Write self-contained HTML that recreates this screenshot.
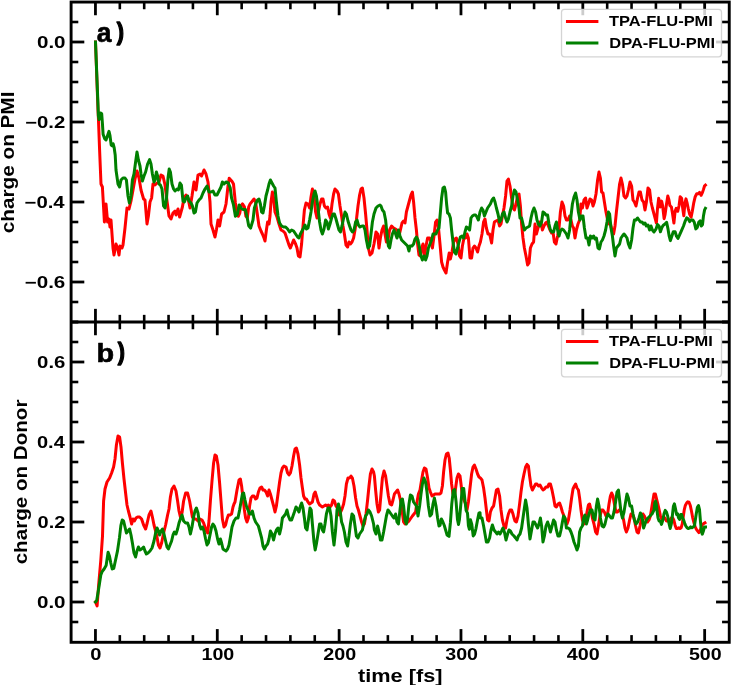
<!DOCTYPE html>
<html><head><meta charset="utf-8"><style>html,body{margin:0;padding:0;background:#fff;width:731px;height:685px;overflow:hidden}</style></head>
<body><svg width="731" height="685" viewBox="0 0 731 685" style="display:block;font-family:'Liberation Sans',sans-serif;font-weight:bold"><defs><clipPath id="ct"><rect x="71.1" y="2.05" width="658.15" height="320.0"/></clipPath><clipPath id="cb"><rect x="71.1" y="322.05" width="658.15" height="320.24999999999994"/></clipPath></defs>
<g clip-path="url(#ct)">
<polyline points="95.5,42.0 98.0,110.0 98.4,118.0 99.6,150.0 101.0,184.0 102.4,187.0 104.4,222.0 106.0,204.0 107.6,222.0 109.0,219.0 110.0,227.0 111.0,220.0 113.0,248.0 114.0,255.0 116.0,244.0 117.6,248.0 119.0,255.0 120.0,246.0 122.0,248.0 123.0,245.0 125.0,228.0 127.0,208.0 129.0,209.0 131.0,201.0 133.0,190.0 135.0,179.0 137.0,171.0 139.0,178.0 141.0,190.0 143.6,199.0 145.0,200.0 147.0,224.0 148.4,216.0 150.0,202.0 151.6,198.0 153.0,184.0 155.0,185.0 157.0,183.0 159.0,182.0 161.0,175.0 163.0,176.0 165.0,185.0 167.0,201.0 169.0,216.0 171.0,219.0 173.0,213.0 175.0,211.0 176.0,215.0 178.0,209.0 179.6,217.0 181.0,212.0 182.4,207.0 184.0,198.0 186.0,195.0 188.0,198.0 190.0,208.0 192.0,196.0 194.0,182.0 196.0,190.0 198.0,175.0 200.0,174.0 201.6,176.0 204.0,170.0 206.0,174.0 208.0,182.0 210.0,202.0 211.0,224.0 213.0,230.0 215.0,237.0 216.4,230.0 218.0,220.0 219.6,226.0 221.6,214.0 224.0,212.0 226.0,204.0 228.0,186.0 229.2,178.3 232.1,181.6 233.5,184.0 235.4,203.0 236.8,210.6 238.3,216.3 239.7,213.4 241.1,205.8 242.5,203.9 244.4,206.8 245.9,216.3 247.3,217.7 248.7,206.8 250.1,203.9 254.0,199.0 255.6,202.0 257.0,212.0 259.0,226.0 261.0,231.0 262.4,234.0 264.0,238.0 265.0,241.0 266.4,230.0 267.6,222.0 269.0,224.0 270.0,216.0 271.0,202.0 272.4,192.0 273.6,198.0 275.0,212.0 277.0,217.0 279.0,224.0 281.0,230.0 283.0,231.0 285.0,233.0 287.0,239.0 289.0,245.0 290.4,248.0 292.0,244.0 293.6,240.0 295.6,244.0 297.0,248.0 298.4,256.0 300.0,257.0 301.6,244.0 303.0,226.0 304.4,210.0 306.0,203.0 308.0,204.0 309.6,208.0 311.0,197.0 312.4,189.0 314.0,196.0 315.6,212.0 317.0,218.0 318.4,212.0 320.0,204.0 321.6,199.0 323.0,199.0 324.4,206.0 326.0,208.0 327.6,207.0 329.0,214.0 330.4,218.0 332.0,204.0 333.6,194.0 335.0,189.0 337.0,191.0 338.4,194.0 340.0,206.0 341.6,216.0 343.0,226.0 344.4,234.0 346.0,245.0 347.6,247.0 349.0,242.0 350.4,244.0 352.0,242.0 353.6,238.0 355.0,230.0 356.4,220.0 358.0,206.0 359.6,195.0 361.0,189.0 362.4,188.0 364.0,198.0 365.6,214.0 367.0,230.0 368.4,248.0 370.0,255.0 372.0,253.0 374.0,244.0 376.0,232.0 377.6,234.0 379.0,248.0 380.4,238.0 382.0,230.0 383.6,226.0 385.0,234.0 386.4,242.0 388.0,240.0 389.6,230.0 391.6,226.0 393.6,228.0 395.6,229.0 397.6,231.0 399.0,236.0 400.4,230.0 402.0,223.0 403.6,221.0 405.0,223.0 406.4,212.0 408.0,206.0 409.6,200.0 411.0,195.0 412.4,192.0 413.6,202.0 415.0,218.0 416.4,230.0 417.6,244.0 419.0,255.0 420.4,256.0 421.6,248.0 423.0,244.0 424.4,256.0 426.0,246.0 427.6,238.0 429.6,238.0 431.0,242.0 432.4,248.0 434.0,236.0 435.6,222.0 437.0,220.0 438.4,227.0 440.0,244.0 441.6,262.0 443.0,267.0 444.4,270.0 446.0,273.0 447.6,262.0 449.2,253.0 450.4,259.0 452.0,252.0 453.6,242.0 455.0,239.0 456.4,238.0 458.0,244.0 459.6,256.0 461.0,258.0 462.4,246.0 464.0,238.0 465.6,238.0 467.0,234.0 468.4,238.0 470.0,258.0 471.6,258.0 473.0,248.0 474.4,246.0 476.0,248.0 477.6,252.0 479.0,246.0 480.4,242.0 482.0,234.0 483.6,222.0 485.0,219.0 486.4,228.0 488.0,234.0 489.6,234.0 491.6,243.0 493.0,230.0 494.4,222.0 496.0,221.0 498.0,220.0 499.6,226.0 501.0,224.0 502.4,216.0 504.0,208.0 505.6,196.0 507.0,181.0 508.4,179.0 510.0,186.0 511.6,198.0 513.0,208.0 514.4,210.0 516.0,204.0 517.6,196.0 519.0,194.0 520.4,206.0 521.6,224.0 523.0,238.0 524.4,248.0 526.0,256.0 527.6,265.0 529.0,263.0 530.4,248.0 532.0,244.0 533.6,242.0 535.0,224.0 536.4,234.0 538.0,228.0 539.6,222.0 541.0,222.0 542.4,230.0 544.0,226.0 545.6,223.0 547.0,222.0 548.4,226.0 550.0,230.0 551.6,233.0 553.0,232.0 554.4,242.0 556.0,244.0 557.6,236.0 559.0,228.0 560.4,212.0 562.0,202.0 563.6,206.0 565.0,216.0 566.4,220.0 568.0,220.0 569.6,216.0 571.0,220.0 572.4,226.0 573.6,228.0 575.0,238.0 576.4,230.0 578.0,224.0 579.6,220.0 581.0,204.0 582.4,208.0 584.0,200.0 585.6,198.0 587.0,208.0 588.4,204.0 590.0,199.0 591.6,200.0 593.0,206.0 594.4,202.0 596.0,194.0 597.6,180.0 599.0,172.0 600.4,178.0 601.6,192.0 603.0,193.0 604.4,202.0 606.0,212.0 607.6,220.0 609.0,224.0 610.4,224.0 612.0,230.0 613.6,234.0 615.0,226.0 616.4,212.0 618.0,198.0 619.6,184.0 621.0,178.0 622.4,184.0 624.0,196.0 625.6,198.0 627.0,196.0 628.4,190.0 630.0,182.0 631.6,186.0 633.0,200.0 634.4,202.0 636.0,206.0 637.6,198.0 639.0,192.0 640.4,192.0 642.0,200.0 643.6,202.0 645.0,210.0 646.4,202.0 648.0,188.0 649.6,190.0 651.0,202.0 652.4,208.0 654.0,214.0 656.4,223.0 657.5,208.4 658.7,198.2 660.2,207.0 661.6,201.1 662.6,205.5 664.1,218.7 665.1,214.3 666.3,205.5 667.8,196.0 668.9,199.7 669.9,205.5 671.4,207.0 672.4,212.8 673.9,223.0 675.1,211.3 676.2,208.4 677.7,211.3 679.1,205.5 680.2,196.7 681.6,198.2 682.7,208.4 683.8,215.7 685.0,202.6 686.0,198.9 687.0,202.6 688.2,208.4 689.7,214.3 691.1,217.2 692.3,211.3 693.8,202.6 695.2,196.7 696.7,193.8 698.1,193.8 699.6,192.4 701.1,195.3 702.5,192.4 703.5,189.4 704.6,185.8 705.4,185.1" fill="none" stroke="#ff0000" stroke-width="3.0" stroke-linejoin="round" stroke-linecap="square"/>
<polyline points="95.5,42.0 98.0,105.0 98.4,116.0 99.1,119.6 100.6,113.0 101.7,113.8 102.4,123.2 103.1,134.2 104.6,138.6 106.0,140.0 107.5,135.7 109.0,131.3 110.0,135.7 111.2,145.1 112.2,145.9 113.1,143.7 114.1,147.3 115.2,155.0 116.0,170.0 118.0,184.0 119.6,187.0 121.0,180.0 123.0,178.0 125.0,178.0 126.4,180.0 128.0,196.0 129.4,203.0 131.0,196.0 132.4,180.0 134.0,174.0 135.6,162.0 137.0,152.0 138.4,160.0 140.0,166.0 141.0,174.0 142.4,181.0 144.0,176.0 145.6,172.0 147.6,164.0 149.6,159.6 151.0,164.0 152.4,174.0 154.0,182.0 155.0,180.0 156.4,172.0 157.6,176.0 159.0,184.0 160.4,185.0 162.0,189.0 163.6,206.0 165.0,208.0 166.4,200.0 168.0,178.0 169.2,169.0 170.4,172.0 172.0,184.0 173.6,189.0 175.0,191.0 177.0,189.0 178.4,190.0 180.0,183.0 181.4,185.0 183.0,201.0 184.4,202.0 186.0,198.0 187.6,196.0 189.0,201.0 191.0,203.0 192.4,206.0 194.0,213.0 195.4,212.0 197.0,203.0 199.0,200.0 201.0,198.0 203.0,193.0 205.0,189.0 207.0,186.0 209.0,192.0 211.0,192.0 213.0,191.0 215.0,195.0 217.0,195.0 219.0,191.0 221.0,187.0 222.4,182.0 224.0,184.0 226.0,182.0 228.3,183.0 230.2,187.8 231.6,198.2 233.5,204.9 235.4,216.3 237.3,214.4 239.2,204.9 241.6,208.7 243.5,209.6 245.4,209.6 247.3,218.2 248.7,225.8 250.6,228.1 253.0,220.0 254.4,208.0 256.0,203.0 257.6,200.0 259.0,199.0 260.4,204.0 261.6,212.0 263.0,213.0 264.4,206.0 266.0,196.0 267.6,190.0 269.0,184.0 270.4,180.0 272.0,183.0 273.6,186.0 275.0,188.0 276.4,202.0 278.0,216.0 279.6,223.0 281.6,226.0 283.6,227.0 285.6,227.0 287.6,229.0 289.6,232.0 291.6,230.0 293.6,231.0 295.6,234.0 297.6,237.0 299.0,238.0 300.4,234.0 302.0,231.0 303.6,228.0 305.0,225.0 306.4,229.0 308.0,228.0 309.6,220.0 311.0,212.0 312.4,202.0 314.0,194.0 315.0,191.0 316.4,196.0 318.0,208.0 319.6,222.0 321.0,230.0 322.4,234.0 324.0,229.0 325.6,220.0 327.0,222.0 328.4,229.0 330.0,224.0 331.6,218.0 333.0,214.0 334.4,214.0 336.0,219.0 337.6,225.0 339.0,230.0 340.4,232.0 342.0,226.0 343.6,218.0 345.0,212.0 346.4,214.0 348.0,221.0 349.6,226.0 351.0,230.0 352.4,232.0 354.0,230.0 355.6,222.0 357.0,220.0 358.4,225.0 360.0,227.0 362.0,226.0 363.6,226.0 365.0,230.0 366.4,240.0 368.0,248.0 369.6,246.0 371.0,234.0 372.4,222.0 374.0,214.0 376.0,208.0 378.0,206.0 380.0,205.0 381.0,206.0 382.4,210.0 384.0,212.0 385.6,220.0 387.0,234.0 388.4,246.0 389.6,248.0 391.0,240.0 392.4,234.0 394.0,230.0 395.6,234.0 397.0,238.0 398.4,230.0 400.0,236.0 401.6,240.0 403.6,242.0 405.6,244.0 407.6,246.0 409.0,251.0 410.0,246.0 412.0,246.0 413.6,244.0 415.0,239.0 416.4,237.0 418.0,240.0 419.6,248.0 421.0,256.0 422.4,260.0 424.0,256.0 425.6,260.0 427.0,256.0 428.4,248.0 430.0,244.0 431.6,240.0 433.0,234.0 434.4,234.0 436.0,234.0 437.6,230.0 439.0,228.0 440.4,212.0 441.6,198.0 443.0,188.0 444.4,187.0 445.6,192.0 446.6,204.0 447.6,213.0 449.0,214.0 450.4,218.0 451.6,230.0 453.0,242.0 454.4,252.0 456.0,254.0 457.6,248.0 459.0,242.0 460.4,237.0 462.0,236.0 463.6,238.0 465.0,232.0 466.4,227.0 468.0,228.0 469.6,230.0 471.0,218.0 472.4,216.0 474.0,215.0 475.6,215.0 477.0,217.0 478.4,220.0 480.0,212.0 481.6,208.0 483.0,210.0 484.4,216.0 486.0,212.0 487.6,208.0 489.0,206.0 490.4,204.0 492.0,200.0 493.6,198.0 495.0,202.0 496.4,208.0 498.0,214.0 499.6,222.0 501.0,220.0 502.4,214.0 504.0,212.0 505.6,218.0 507.0,222.0 508.4,219.0 510.0,212.0 511.6,206.0 513.0,196.0 514.4,190.0 516.0,192.0 517.6,200.0 519.0,208.0 520.0,218.0 521.6,218.0 523.0,224.0 524.4,230.0 526.0,228.0 528.0,227.0 529.6,226.0 531.0,218.0 532.4,212.0 534.0,208.0 535.6,212.0 537.0,220.0 538.4,224.0 540.0,226.0 541.6,222.0 543.0,212.0 544.4,213.0 546.0,215.0 547.6,215.0 549.0,224.0 550.4,230.0 552.0,232.0 553.6,232.0 555.0,226.0 556.4,222.0 557.6,230.0 559.0,236.0 560.4,231.0 562.0,229.0 563.6,230.0 565.0,232.0 566.4,234.0 568.0,238.0 569.6,230.0 571.0,216.0 572.4,204.0 574.0,197.0 575.6,193.0 577.0,200.0 578.4,212.0 580.0,220.0 581.6,216.0 583.0,216.0 584.4,228.0 586.0,238.0 587.6,238.0 589.0,245.0 590.4,236.0 592.0,238.0 593.6,236.0 595.0,239.0 596.4,238.0 598.0,248.0 599.4,249.0 601.0,242.0 602.4,240.0 604.0,236.0 605.6,230.0 607.0,222.0 608.4,212.0 609.6,214.0 611.0,228.0 612.4,236.0 613.6,246.0 615.0,256.0 616.4,248.0 618.0,246.0 619.6,244.0 621.0,238.0 622.4,236.0 624.0,234.0 625.6,236.0 627.0,238.0 628.4,244.0 630.0,248.0 631.6,240.0 633.0,228.0 634.4,220.0 636.0,220.0 637.6,218.0 639.0,220.0 640.4,222.0 642.0,222.0 643.6,224.0 645.0,223.0 646.4,226.0 648.0,225.0 649.6,230.0 651.0,226.0 652.4,230.0 654.0,232.0 656.1,228.9 657.5,224.5 659.0,226.0 660.4,231.8 661.9,227.4 663.4,225.2 665.1,223.8 666.6,222.3 668.0,228.9 669.2,236.2 670.4,240.6 671.8,236.2 673.3,231.8 675.1,231.8 676.5,236.2 678.0,238.4 679.7,234.7 681.6,230.3 683.5,226.0 685.3,220.8 686.7,217.9 688.2,218.7 689.7,221.6 691.1,220.1 692.9,220.1 694.3,222.3 695.8,228.9 697.3,227.4 698.7,222.3 700.2,220.8 701.3,226.0 702.5,224.5 703.5,215.7 704.6,209.9 705.4,208.4" fill="none" stroke="#008000" stroke-width="3.0" stroke-linejoin="round" stroke-linecap="square"/>
</g><g clip-path="url(#cb)">
<polyline points="95.5,602.0 97.1,605.9 98.7,584.4 100.8,560.3 102.5,536.1 103.6,501.0 105.0,489.0 107.0,482.0 109.6,478.0 111.6,473.0 113.6,467.0 115.0,459.0 116.4,445.0 118.0,436.0 119.6,437.0 121.0,447.0 122.4,463.0 124.0,479.0 125.6,493.0 127.0,505.0 128.4,511.0 130.0,517.0 131.6,524.0 133.0,519.0 134.4,521.0 136.0,518.0 137.6,517.0 139.6,517.0 141.6,519.0 143.6,525.0 145.6,529.0 147.2,523.0 149.0,515.0 151.0,511.0 152.4,517.0 154.0,525.0 155.6,531.0 157.0,537.0 158.4,545.0 160.0,548.0 161.6,543.0 163.6,533.0 165.6,525.0 167.6,515.0 169.0,509.0 170.4,497.0 172.0,489.0 174.0,486.0 176.0,491.0 177.6,501.0 179.0,511.0 180.4,517.0 182.0,513.0 183.6,501.0 185.6,493.0 187.6,493.0 189.6,501.0 191.0,509.0 192.4,517.0 194.0,519.0 196.0,519.0 198.0,521.0 200.0,519.0 202.0,520.0 203.6,523.0 205.0,527.0 206.4,531.0 207.6,533.0 209.0,521.0 210.4,501.0 212.0,481.0 213.6,463.0 215.0,455.0 216.4,456.0 218.0,465.0 219.6,483.0 221.0,501.0 222.4,519.0 224.0,527.0 225.6,525.0 227.0,519.0 228.4,515.0 230.0,515.0 231.6,514.0 233.0,507.0 234.0,504.0 235.0,502.0 237.0,490.0 239.0,480.0 240.4,479.0 241.6,486.0 243.0,498.0 244.4,510.0 245.6,518.0 247.0,522.0 248.4,518.0 249.6,506.0 251.0,498.0 252.4,496.0 254.0,496.0 255.6,499.0 257.0,498.0 258.4,492.0 260.0,488.0 261.6,487.0 263.0,490.0 264.4,490.0 266.0,492.0 267.6,496.0 269.0,490.0 270.4,494.0 272.0,500.0 273.6,506.0 275.0,512.0 276.4,506.0 278.0,494.0 279.6,482.0 281.0,473.0 282.4,468.0 284.0,466.0 286.0,467.0 287.6,473.0 289.0,475.0 290.4,473.0 292.0,466.0 293.6,456.0 295.0,449.0 296.4,448.0 298.0,454.0 299.6,465.0 301.0,478.0 302.4,488.0 303.6,496.0 305.0,499.0 306.4,499.0 308.0,502.0 309.6,504.0 311.0,503.0 312.4,502.0 314.0,494.0 315.2,492.0 316.4,496.0 318.0,502.0 319.6,505.0 321.0,506.0 322.4,507.0 324.0,506.0 325.6,505.0 327.0,506.0 328.4,505.0 330.0,507.0 331.6,505.0 333.0,500.0 334.4,501.0 336.0,506.0 337.6,508.0 339.2,515.0 340.6,512.0 342.0,509.0 343.6,504.0 345.0,496.0 346.4,484.0 348.0,478.0 349.6,478.0 351.0,476.0 352.4,478.0 354.0,486.0 355.6,498.0 357.0,506.0 358.4,510.0 360.0,516.0 361.6,522.0 363.0,526.0 364.4,524.0 366.0,514.0 367.6,500.0 369.0,486.0 370.4,474.0 372.0,469.0 373.6,472.0 374.4,476.0 375.6,490.0 377.0,504.0 378.4,512.0 379.6,510.0 381.0,494.0 382.4,478.0 384.0,471.0 385.6,476.0 387.0,486.0 388.4,496.0 390.0,504.0 391.6,505.0 393.0,500.0 394.4,494.0 396.0,492.0 397.6,490.0 399.0,494.0 400.4,500.0 402.0,510.0 403.6,522.0 405.0,524.0 406.4,522.0 408.0,522.0 409.6,520.0 411.0,518.0 412.4,516.0 414.0,514.0 415.6,512.0 417.0,502.0 418.4,494.0 420.0,490.0 421.6,480.0 423.0,472.0 424.4,468.0 426.0,469.0 427.6,478.0 429.0,488.0 430.4,492.0 432.0,496.0 433.6,495.0 435.0,494.0 436.4,494.0 438.0,494.0 439.6,494.0 441.0,493.0 442.4,486.0 443.6,472.0 445.0,460.0 446.4,454.0 448.0,453.0 449.2,458.0 450.4,470.0 451.6,484.0 453.0,494.0 454.4,496.0 455.6,488.0 457.0,478.0 458.4,474.0 460.0,476.0 461.0,484.0 462.4,496.0 464.0,500.0 465.6,504.0 467.0,510.0 468.4,502.0 470.0,488.0 471.6,474.0 473.0,467.0 474.4,465.0 476.0,469.0 477.6,474.0 479.0,477.0 480.4,478.0 482.0,480.0 483.6,488.0 485.0,498.0 486.4,510.0 487.6,520.0 489.0,521.0 490.4,512.0 492.0,508.0 493.6,506.0 495.0,498.0 496.4,490.0 498.0,489.0 499.6,496.0 501.0,510.0 502.4,520.0 504.0,526.0 505.6,528.0 507.0,520.0 508.4,514.0 510.0,510.0 511.6,510.0 513.0,514.0 514.0,518.0 515.0,521.0 516.4,522.0 518.0,516.0 519.6,504.0 521.0,492.0 522.4,482.0 524.0,474.0 525.6,467.0 527.0,464.4 528.4,466.0 529.6,476.0 531.0,486.0 532.4,490.0 534.0,487.0 535.6,484.0 537.0,484.0 538.4,486.0 540.0,485.0 541.6,488.0 543.0,490.0 544.4,489.0 546.0,487.0 547.6,487.0 549.0,484.0 550.4,484.0 552.0,490.0 553.6,498.0 555.0,506.0 556.4,507.0 558.0,504.0 559.6,503.0 561.0,507.0 562.4,512.0 564.0,516.0 565.6,520.0 567.0,524.0 568.4,520.0 570.0,510.0 571.6,498.0 573.0,489.0 574.4,486.0 575.6,484.0 577.0,488.0 578.4,490.0 579.6,498.0 581.0,510.0 582.4,520.0 584.0,524.0 585.6,520.0 587.0,512.0 588.4,505.0 589.6,504.0 591.0,510.0 592.4,518.0 594.0,524.0 595.6,532.0 597.0,534.0 598.4,526.0 600.0,516.0 601.6,510.0 603.0,510.0 604.4,512.0 606.0,516.0 607.6,514.0 609.0,504.0 610.4,496.0 611.6,493.0 613.0,496.0 614.4,504.0 616.0,512.0 617.6,512.0 619.0,510.0 620.4,510.0 622.0,514.0 623.6,520.0 625.0,528.0 626.4,532.0 628.0,528.0 629.6,520.0 631.0,514.0 632.4,514.0 634.0,518.0 635.6,526.0 637.0,532.0 638.4,533.0 640.0,526.0 641.6,518.0 643.0,514.0 644.4,516.0 646.0,520.0 647.6,522.0 649.0,520.0 650.4,516.0 652.0,506.0 654.0,494.0 655.4,494.0 656.6,499.0 657.8,503.9 659.1,509.6 660.3,515.4 661.5,518.7 662.8,517.8 664.0,517.0 665.2,518.7 666.5,521.1 667.7,521.1 668.9,520.3 670.2,519.5 671.4,517.8 672.6,517.8 673.9,520.3 675.1,525.2 676.3,528.5 677.5,528.5 678.8,527.7 680.0,528.5 681.2,527.7 682.3,523.6 683.3,516.2 684.3,509.6 685.3,505.5 686.6,503.1 687.8,501.8 689.0,502.2 690.3,505.5 691.5,511.3 692.7,517.8 694.0,522.8 695.2,526.9 696.4,529.3 697.7,531.0 698.9,532.6 700.1,531.0 701.4,526.9 702.6,524.4 703.8,523.6 705.0,522.8" fill="none" stroke="#ff0000" stroke-width="3.0" stroke-linejoin="round" stroke-linecap="square"/>
<polyline points="95.5,602.0 96.7,600.5 98.7,588.5 100.8,575.0 102.1,571.7 104.1,569.0 106.1,565.6 108.1,552.2 109.5,556.2 110.8,563.0 112.2,569.0 113.8,568.3 115.5,560.3 117.5,550.9 119.5,537.4 120.9,525.4 122.2,520.0 123.6,521.0 125.0,527.0 126.4,533.0 128.0,531.0 129.6,529.0 131.0,535.0 132.4,543.0 134.0,553.0 135.6,557.0 137.0,551.0 138.4,547.0 140.0,550.0 141.6,549.0 143.6,547.0 145.0,551.0 146.4,554.0 148.0,553.0 150.0,551.0 152.0,548.0 154.0,541.0 155.6,533.0 157.0,528.0 158.4,531.0 159.6,535.0 161.0,531.0 162.4,529.0 164.0,534.0 165.6,541.0 167.0,547.0 168.4,549.0 170.0,545.0 171.6,541.0 173.0,535.0 174.4,532.0 176.0,534.0 177.6,529.0 179.0,523.0 180.4,519.0 182.0,515.0 183.6,521.0 185.6,523.0 187.6,523.0 189.0,527.0 190.4,534.0 192.0,527.0 193.6,517.0 195.0,511.0 196.4,508.0 198.0,513.0 199.6,525.0 201.0,529.0 202.4,527.0 204.0,531.0 205.6,539.0 207.0,545.0 208.4,543.0 210.0,535.0 211.6,527.0 213.0,524.0 214.4,526.0 216.0,531.0 217.6,539.0 219.0,544.0 220.4,539.0 221.6,543.0 223.0,549.0 224.4,550.0 226.0,551.0 227.6,549.0 229.0,545.0 230.4,537.0 232.0,527.0 234.0,521.0 236.0,518.0 238.0,518.0 239.6,510.0 241.0,502.0 242.4,494.0 243.6,493.0 245.0,500.0 246.4,506.0 248.0,510.0 249.6,514.0 251.0,514.0 252.4,511.0 254.0,518.0 255.6,522.0 257.0,524.0 258.4,526.0 260.0,532.0 261.6,538.0 263.0,546.0 264.4,549.0 266.0,546.0 267.6,544.0 269.0,539.0 270.4,531.0 272.0,534.0 273.6,540.0 275.0,534.0 276.4,530.0 278.0,528.0 279.6,534.0 281.0,528.0 282.4,518.0 284.0,516.0 285.6,514.0 287.0,510.0 288.4,516.0 290.0,520.0 291.6,520.0 293.0,516.0 294.4,512.0 296.0,507.0 297.6,509.0 299.0,512.0 300.4,506.0 301.6,503.0 303.0,508.0 304.4,518.0 305.6,528.0 307.0,530.0 308.4,520.0 310.0,508.0 311.2,510.0 312.4,524.0 314.0,542.0 315.2,550.0 316.4,544.0 318.0,534.0 319.6,524.0 321.0,524.0 322.4,530.0 323.6,532.0 325.0,524.0 326.4,514.0 328.0,508.0 329.6,508.0 331.0,516.0 332.4,532.0 334.0,545.0 335.6,530.0 337.0,510.0 338.4,504.0 340.0,510.0 341.6,522.0 343.0,526.0 344.4,532.0 346.0,542.0 347.6,546.0 349.0,536.0 350.4,524.0 352.0,514.0 353.6,516.0 355.0,526.0 356.4,536.0 358.0,538.0 359.6,534.0 361.0,532.0 362.4,530.0 364.0,522.0 365.6,516.0 367.0,514.0 368.4,510.0 370.0,512.0 371.6,516.0 373.6,524.0 374.4,530.0 376.0,534.0 377.6,526.0 379.0,532.0 380.4,540.0 382.0,540.0 383.6,532.0 385.0,524.0 386.4,516.0 388.0,510.0 389.6,512.0 391.0,514.0 392.4,516.0 394.0,518.0 395.6,514.0 397.0,522.0 398.4,524.0 400.0,510.0 401.2,500.0 402.4,499.0 403.6,506.0 405.0,520.0 406.4,524.0 407.6,518.0 409.0,504.0 410.4,495.0 412.0,496.0 413.6,502.0 415.0,504.0 416.4,506.0 418.0,516.0 419.6,506.0 421.0,494.0 422.4,484.0 424.0,478.0 425.6,482.0 427.0,492.0 428.4,506.0 430.0,516.0 431.6,514.0 433.0,504.0 434.4,498.0 436.0,506.0 437.6,518.0 439.0,526.0 440.0,525.5 441.4,518.9 442.8,521.7 444.3,525.5 445.7,530.2 447.1,535.0 449.0,536.4 450.4,522.7 451.8,503.7 453.3,490.4 454.7,489.5 456.1,501.8 457.5,519.8 458.5,524.5 459.4,519.8 460.9,503.7 462.3,488.5 463.7,488.5 464.8,499.0 466.1,510.3 467.5,513.2 468.4,525.5 469.4,529.3 470.5,519.8 471.8,524.5 473.2,535.9 474.6,534.0 476.0,528.3 477.4,520.8 478.9,513.2 480.0,512.7 480.4,518.0 482.0,518.0 483.6,526.0 485.0,534.0 486.4,542.0 488.0,542.0 489.6,538.0 491.0,530.0 492.4,525.0 494.0,530.0 495.6,532.0 497.0,534.0 498.4,532.0 500.0,534.0 501.6,531.0 503.0,528.0 504.4,532.0 506.0,540.0 507.6,534.0 509.0,530.0 510.4,531.0 512.0,534.0 514.0,536.0 515.6,538.0 517.0,540.0 518.4,536.0 520.0,534.0 521.6,528.0 523.0,518.0 524.4,508.0 525.6,500.0 527.0,508.0 528.4,524.0 530.0,539.0 531.6,530.0 533.0,522.0 534.4,522.0 536.0,525.0 537.6,528.0 539.0,524.0 540.4,518.0 541.6,526.0 543.0,542.0 544.4,536.0 546.0,526.0 547.6,522.0 549.0,526.0 550.4,532.0 552.0,526.0 553.6,520.0 555.0,522.0 556.4,530.0 558.0,536.0 559.6,536.0 561.0,530.0 562.4,522.0 563.6,516.0 565.0,518.0 566.4,528.0 568.0,528.0 569.6,529.0 571.0,532.0 572.4,536.0 574.0,542.0 575.6,546.0 577.0,550.0 578.4,546.0 579.6,532.0 581.0,528.0 582.4,526.0 583.6,518.0 585.0,515.0 586.4,524.0 587.6,520.0 589.0,514.0 590.4,510.0 592.0,510.0 593.6,518.0 595.0,520.0 596.4,506.0 597.6,499.0 599.0,506.0 600.4,518.0 602.0,526.0 603.6,527.0 605.0,524.0 606.4,518.0 608.0,514.0 609.6,516.0 611.0,518.0 612.4,518.0 614.0,512.0 615.6,502.0 617.0,492.0 618.4,490.0 619.6,500.0 621.0,512.0 622.4,518.0 624.0,512.0 625.6,502.0 627.0,494.0 628.4,498.0 630.0,506.0 631.6,506.0 633.0,514.0 634.4,520.0 636.0,524.0 637.6,522.0 639.0,518.0 640.4,513.0 642.0,516.0 643.6,528.0 645.0,524.0 646.4,520.0 648.0,518.0 650.0,516.0 652.0,514.0 654.0,510.0 654.7,503.1 655.6,501.0 656.4,504.7 657.2,512.1 658.0,517.8 659.1,521.1 660.3,521.1 661.5,524.4 662.8,520.3 664.0,513.7 665.2,510.4 666.5,512.1 667.7,516.2 668.9,522.8 670.2,528.5 671.4,523.6 672.5,514.5 673.4,506.3 674.4,503.9 675.5,508.8 676.6,514.5 677.5,513.7 678.5,517.8 679.6,519.5 680.7,514.5 681.7,514.5 682.6,517.8 683.7,520.3 684.8,523.6 685.8,526.0 687.0,527.7 688.2,528.5 689.5,528.1 690.7,526.9 691.9,527.7 693.1,526.9 694.4,526.0 695.4,519.5 696.4,512.9 697.4,507.2 698.5,505.5 699.5,509.6 700.5,521.9 701.5,531.8 702.3,534.2 703.4,531.0 704.5,526.9 705.5,526.9" fill="none" stroke="#008000" stroke-width="3.0" stroke-linejoin="round" stroke-linecap="square"/>
</g>
<line x1="95.45" y1="2.05" x2="95.45" y2="15.25" stroke="#000" stroke-width="2.8" />
<line x1="119.82" y1="2.05" x2="119.82" y2="9.25" stroke="#000" stroke-width="2.6" />
<line x1="144.19" y1="2.05" x2="144.19" y2="9.25" stroke="#000" stroke-width="2.6" />
<line x1="168.55" y1="2.05" x2="168.55" y2="9.25" stroke="#000" stroke-width="2.6" />
<line x1="192.92" y1="2.05" x2="192.92" y2="9.25" stroke="#000" stroke-width="2.6" />
<line x1="217.29" y1="2.05" x2="217.29" y2="15.25" stroke="#000" stroke-width="2.8" />
<line x1="241.66" y1="2.05" x2="241.66" y2="9.25" stroke="#000" stroke-width="2.6" />
<line x1="266.03" y1="2.05" x2="266.03" y2="9.25" stroke="#000" stroke-width="2.6" />
<line x1="290.39" y1="2.05" x2="290.39" y2="9.25" stroke="#000" stroke-width="2.6" />
<line x1="314.76" y1="2.05" x2="314.76" y2="9.25" stroke="#000" stroke-width="2.6" />
<line x1="339.13" y1="2.05" x2="339.13" y2="15.25" stroke="#000" stroke-width="2.8" />
<line x1="363.50" y1="2.05" x2="363.50" y2="9.25" stroke="#000" stroke-width="2.6" />
<line x1="387.87" y1="2.05" x2="387.87" y2="9.25" stroke="#000" stroke-width="2.6" />
<line x1="412.23" y1="2.05" x2="412.23" y2="9.25" stroke="#000" stroke-width="2.6" />
<line x1="436.60" y1="2.05" x2="436.60" y2="9.25" stroke="#000" stroke-width="2.6" />
<line x1="460.97" y1="2.05" x2="460.97" y2="15.25" stroke="#000" stroke-width="2.8" />
<line x1="485.34" y1="2.05" x2="485.34" y2="9.25" stroke="#000" stroke-width="2.6" />
<line x1="509.71" y1="2.05" x2="509.71" y2="9.25" stroke="#000" stroke-width="2.6" />
<line x1="534.07" y1="2.05" x2="534.07" y2="9.25" stroke="#000" stroke-width="2.6" />
<line x1="558.44" y1="2.05" x2="558.44" y2="9.25" stroke="#000" stroke-width="2.6" />
<line x1="582.81" y1="2.05" x2="582.81" y2="15.25" stroke="#000" stroke-width="2.8" />
<line x1="607.18" y1="2.05" x2="607.18" y2="9.25" stroke="#000" stroke-width="2.6" />
<line x1="631.55" y1="2.05" x2="631.55" y2="9.25" stroke="#000" stroke-width="2.6" />
<line x1="655.91" y1="2.05" x2="655.91" y2="9.25" stroke="#000" stroke-width="2.6" />
<line x1="680.28" y1="2.05" x2="680.28" y2="9.25" stroke="#000" stroke-width="2.6" />
<line x1="704.65" y1="2.05" x2="704.65" y2="15.25" stroke="#000" stroke-width="2.8" />
<line x1="95.45" y1="322.05" x2="95.45" y2="308.85" stroke="#000" stroke-width="2.8" />
<line x1="119.82" y1="322.05" x2="119.82" y2="314.85" stroke="#000" stroke-width="2.6" />
<line x1="144.19" y1="322.05" x2="144.19" y2="314.85" stroke="#000" stroke-width="2.6" />
<line x1="168.55" y1="322.05" x2="168.55" y2="314.85" stroke="#000" stroke-width="2.6" />
<line x1="192.92" y1="322.05" x2="192.92" y2="314.85" stroke="#000" stroke-width="2.6" />
<line x1="217.29" y1="322.05" x2="217.29" y2="308.85" stroke="#000" stroke-width="2.8" />
<line x1="241.66" y1="322.05" x2="241.66" y2="314.85" stroke="#000" stroke-width="2.6" />
<line x1="266.03" y1="322.05" x2="266.03" y2="314.85" stroke="#000" stroke-width="2.6" />
<line x1="290.39" y1="322.05" x2="290.39" y2="314.85" stroke="#000" stroke-width="2.6" />
<line x1="314.76" y1="322.05" x2="314.76" y2="314.85" stroke="#000" stroke-width="2.6" />
<line x1="339.13" y1="322.05" x2="339.13" y2="308.85" stroke="#000" stroke-width="2.8" />
<line x1="363.50" y1="322.05" x2="363.50" y2="314.85" stroke="#000" stroke-width="2.6" />
<line x1="387.87" y1="322.05" x2="387.87" y2="314.85" stroke="#000" stroke-width="2.6" />
<line x1="412.23" y1="322.05" x2="412.23" y2="314.85" stroke="#000" stroke-width="2.6" />
<line x1="436.60" y1="322.05" x2="436.60" y2="314.85" stroke="#000" stroke-width="2.6" />
<line x1="460.97" y1="322.05" x2="460.97" y2="308.85" stroke="#000" stroke-width="2.8" />
<line x1="485.34" y1="322.05" x2="485.34" y2="314.85" stroke="#000" stroke-width="2.6" />
<line x1="509.71" y1="322.05" x2="509.71" y2="314.85" stroke="#000" stroke-width="2.6" />
<line x1="534.07" y1="322.05" x2="534.07" y2="314.85" stroke="#000" stroke-width="2.6" />
<line x1="558.44" y1="322.05" x2="558.44" y2="314.85" stroke="#000" stroke-width="2.6" />
<line x1="582.81" y1="322.05" x2="582.81" y2="308.85" stroke="#000" stroke-width="2.8" />
<line x1="607.18" y1="322.05" x2="607.18" y2="314.85" stroke="#000" stroke-width="2.6" />
<line x1="631.55" y1="322.05" x2="631.55" y2="314.85" stroke="#000" stroke-width="2.6" />
<line x1="655.91" y1="322.05" x2="655.91" y2="314.85" stroke="#000" stroke-width="2.6" />
<line x1="680.28" y1="322.05" x2="680.28" y2="314.85" stroke="#000" stroke-width="2.6" />
<line x1="704.65" y1="322.05" x2="704.65" y2="308.85" stroke="#000" stroke-width="2.8" />
<line x1="95.45" y1="322.05" x2="95.45" y2="335.25" stroke="#000" stroke-width="2.8" />
<line x1="119.82" y1="322.05" x2="119.82" y2="329.25" stroke="#000" stroke-width="2.6" />
<line x1="144.19" y1="322.05" x2="144.19" y2="329.25" stroke="#000" stroke-width="2.6" />
<line x1="168.55" y1="322.05" x2="168.55" y2="329.25" stroke="#000" stroke-width="2.6" />
<line x1="192.92" y1="322.05" x2="192.92" y2="329.25" stroke="#000" stroke-width="2.6" />
<line x1="217.29" y1="322.05" x2="217.29" y2="335.25" stroke="#000" stroke-width="2.8" />
<line x1="241.66" y1="322.05" x2="241.66" y2="329.25" stroke="#000" stroke-width="2.6" />
<line x1="266.03" y1="322.05" x2="266.03" y2="329.25" stroke="#000" stroke-width="2.6" />
<line x1="290.39" y1="322.05" x2="290.39" y2="329.25" stroke="#000" stroke-width="2.6" />
<line x1="314.76" y1="322.05" x2="314.76" y2="329.25" stroke="#000" stroke-width="2.6" />
<line x1="339.13" y1="322.05" x2="339.13" y2="335.25" stroke="#000" stroke-width="2.8" />
<line x1="363.50" y1="322.05" x2="363.50" y2="329.25" stroke="#000" stroke-width="2.6" />
<line x1="387.87" y1="322.05" x2="387.87" y2="329.25" stroke="#000" stroke-width="2.6" />
<line x1="412.23" y1="322.05" x2="412.23" y2="329.25" stroke="#000" stroke-width="2.6" />
<line x1="436.60" y1="322.05" x2="436.60" y2="329.25" stroke="#000" stroke-width="2.6" />
<line x1="460.97" y1="322.05" x2="460.97" y2="335.25" stroke="#000" stroke-width="2.8" />
<line x1="485.34" y1="322.05" x2="485.34" y2="329.25" stroke="#000" stroke-width="2.6" />
<line x1="509.71" y1="322.05" x2="509.71" y2="329.25" stroke="#000" stroke-width="2.6" />
<line x1="534.07" y1="322.05" x2="534.07" y2="329.25" stroke="#000" stroke-width="2.6" />
<line x1="558.44" y1="322.05" x2="558.44" y2="329.25" stroke="#000" stroke-width="2.6" />
<line x1="582.81" y1="322.05" x2="582.81" y2="335.25" stroke="#000" stroke-width="2.8" />
<line x1="607.18" y1="322.05" x2="607.18" y2="329.25" stroke="#000" stroke-width="2.6" />
<line x1="631.55" y1="322.05" x2="631.55" y2="329.25" stroke="#000" stroke-width="2.6" />
<line x1="655.91" y1="322.05" x2="655.91" y2="329.25" stroke="#000" stroke-width="2.6" />
<line x1="680.28" y1="322.05" x2="680.28" y2="329.25" stroke="#000" stroke-width="2.6" />
<line x1="704.65" y1="322.05" x2="704.65" y2="335.25" stroke="#000" stroke-width="2.8" />
<line x1="95.45" y1="642.30" x2="95.45" y2="629.10" stroke="#000" stroke-width="2.8" />
<line x1="119.82" y1="642.30" x2="119.82" y2="635.10" stroke="#000" stroke-width="2.6" />
<line x1="144.19" y1="642.30" x2="144.19" y2="635.10" stroke="#000" stroke-width="2.6" />
<line x1="168.55" y1="642.30" x2="168.55" y2="635.10" stroke="#000" stroke-width="2.6" />
<line x1="192.92" y1="642.30" x2="192.92" y2="635.10" stroke="#000" stroke-width="2.6" />
<line x1="217.29" y1="642.30" x2="217.29" y2="629.10" stroke="#000" stroke-width="2.8" />
<line x1="241.66" y1="642.30" x2="241.66" y2="635.10" stroke="#000" stroke-width="2.6" />
<line x1="266.03" y1="642.30" x2="266.03" y2="635.10" stroke="#000" stroke-width="2.6" />
<line x1="290.39" y1="642.30" x2="290.39" y2="635.10" stroke="#000" stroke-width="2.6" />
<line x1="314.76" y1="642.30" x2="314.76" y2="635.10" stroke="#000" stroke-width="2.6" />
<line x1="339.13" y1="642.30" x2="339.13" y2="629.10" stroke="#000" stroke-width="2.8" />
<line x1="363.50" y1="642.30" x2="363.50" y2="635.10" stroke="#000" stroke-width="2.6" />
<line x1="387.87" y1="642.30" x2="387.87" y2="635.10" stroke="#000" stroke-width="2.6" />
<line x1="412.23" y1="642.30" x2="412.23" y2="635.10" stroke="#000" stroke-width="2.6" />
<line x1="436.60" y1="642.30" x2="436.60" y2="635.10" stroke="#000" stroke-width="2.6" />
<line x1="460.97" y1="642.30" x2="460.97" y2="629.10" stroke="#000" stroke-width="2.8" />
<line x1="485.34" y1="642.30" x2="485.34" y2="635.10" stroke="#000" stroke-width="2.6" />
<line x1="509.71" y1="642.30" x2="509.71" y2="635.10" stroke="#000" stroke-width="2.6" />
<line x1="534.07" y1="642.30" x2="534.07" y2="635.10" stroke="#000" stroke-width="2.6" />
<line x1="558.44" y1="642.30" x2="558.44" y2="635.10" stroke="#000" stroke-width="2.6" />
<line x1="582.81" y1="642.30" x2="582.81" y2="629.10" stroke="#000" stroke-width="2.8" />
<line x1="607.18" y1="642.30" x2="607.18" y2="635.10" stroke="#000" stroke-width="2.6" />
<line x1="631.55" y1="642.30" x2="631.55" y2="635.10" stroke="#000" stroke-width="2.6" />
<line x1="655.91" y1="642.30" x2="655.91" y2="635.10" stroke="#000" stroke-width="2.6" />
<line x1="680.28" y1="642.30" x2="680.28" y2="635.10" stroke="#000" stroke-width="2.6" />
<line x1="704.65" y1="642.30" x2="704.65" y2="629.10" stroke="#000" stroke-width="2.8" />
<line x1="71.10" y1="322.00" x2="78.30" y2="322.00" stroke="#000" stroke-width="2.6" />
<line x1="729.25" y1="322.00" x2="722.05" y2="322.00" stroke="#000" stroke-width="2.6" />
<line x1="71.10" y1="302.00" x2="78.30" y2="302.00" stroke="#000" stroke-width="2.6" />
<line x1="729.25" y1="302.00" x2="722.05" y2="302.00" stroke="#000" stroke-width="2.6" />
<line x1="71.10" y1="282.00" x2="84.30" y2="282.00" stroke="#000" stroke-width="2.8" />
<line x1="729.25" y1="282.00" x2="716.05" y2="282.00" stroke="#000" stroke-width="2.8" />
<line x1="71.10" y1="262.00" x2="78.30" y2="262.00" stroke="#000" stroke-width="2.6" />
<line x1="729.25" y1="262.00" x2="722.05" y2="262.00" stroke="#000" stroke-width="2.6" />
<line x1="71.10" y1="242.00" x2="78.30" y2="242.00" stroke="#000" stroke-width="2.6" />
<line x1="729.25" y1="242.00" x2="722.05" y2="242.00" stroke="#000" stroke-width="2.6" />
<line x1="71.10" y1="222.00" x2="78.30" y2="222.00" stroke="#000" stroke-width="2.6" />
<line x1="729.25" y1="222.00" x2="722.05" y2="222.00" stroke="#000" stroke-width="2.6" />
<line x1="71.10" y1="202.00" x2="84.30" y2="202.00" stroke="#000" stroke-width="2.8" />
<line x1="729.25" y1="202.00" x2="716.05" y2="202.00" stroke="#000" stroke-width="2.8" />
<line x1="71.10" y1="182.00" x2="78.30" y2="182.00" stroke="#000" stroke-width="2.6" />
<line x1="729.25" y1="182.00" x2="722.05" y2="182.00" stroke="#000" stroke-width="2.6" />
<line x1="71.10" y1="162.00" x2="78.30" y2="162.00" stroke="#000" stroke-width="2.6" />
<line x1="729.25" y1="162.00" x2="722.05" y2="162.00" stroke="#000" stroke-width="2.6" />
<line x1="71.10" y1="142.00" x2="78.30" y2="142.00" stroke="#000" stroke-width="2.6" />
<line x1="729.25" y1="142.00" x2="722.05" y2="142.00" stroke="#000" stroke-width="2.6" />
<line x1="71.10" y1="122.00" x2="84.30" y2="122.00" stroke="#000" stroke-width="2.8" />
<line x1="729.25" y1="122.00" x2="716.05" y2="122.00" stroke="#000" stroke-width="2.8" />
<line x1="71.10" y1="102.00" x2="78.30" y2="102.00" stroke="#000" stroke-width="2.6" />
<line x1="729.25" y1="102.00" x2="722.05" y2="102.00" stroke="#000" stroke-width="2.6" />
<line x1="71.10" y1="82.00" x2="78.30" y2="82.00" stroke="#000" stroke-width="2.6" />
<line x1="729.25" y1="82.00" x2="722.05" y2="82.00" stroke="#000" stroke-width="2.6" />
<line x1="71.10" y1="62.00" x2="78.30" y2="62.00" stroke="#000" stroke-width="2.6" />
<line x1="729.25" y1="62.00" x2="722.05" y2="62.00" stroke="#000" stroke-width="2.6" />
<line x1="71.10" y1="42.00" x2="84.30" y2="42.00" stroke="#000" stroke-width="2.8" />
<line x1="729.25" y1="42.00" x2="716.05" y2="42.00" stroke="#000" stroke-width="2.8" />
<line x1="71.10" y1="22.00" x2="78.30" y2="22.00" stroke="#000" stroke-width="2.6" />
<line x1="729.25" y1="22.00" x2="722.05" y2="22.00" stroke="#000" stroke-width="2.6" />
<line x1="71.10" y1="622.00" x2="78.30" y2="622.00" stroke="#000" stroke-width="2.6" />
<line x1="729.25" y1="622.00" x2="722.05" y2="622.00" stroke="#000" stroke-width="2.6" />
<line x1="71.10" y1="602.00" x2="84.30" y2="602.00" stroke="#000" stroke-width="2.8" />
<line x1="729.25" y1="602.00" x2="716.05" y2="602.00" stroke="#000" stroke-width="2.8" />
<line x1="71.10" y1="582.00" x2="78.30" y2="582.00" stroke="#000" stroke-width="2.6" />
<line x1="729.25" y1="582.00" x2="722.05" y2="582.00" stroke="#000" stroke-width="2.6" />
<line x1="71.10" y1="562.00" x2="78.30" y2="562.00" stroke="#000" stroke-width="2.6" />
<line x1="729.25" y1="562.00" x2="722.05" y2="562.00" stroke="#000" stroke-width="2.6" />
<line x1="71.10" y1="542.00" x2="78.30" y2="542.00" stroke="#000" stroke-width="2.6" />
<line x1="729.25" y1="542.00" x2="722.05" y2="542.00" stroke="#000" stroke-width="2.6" />
<line x1="71.10" y1="522.00" x2="84.30" y2="522.00" stroke="#000" stroke-width="2.8" />
<line x1="729.25" y1="522.00" x2="716.05" y2="522.00" stroke="#000" stroke-width="2.8" />
<line x1="71.10" y1="502.00" x2="78.30" y2="502.00" stroke="#000" stroke-width="2.6" />
<line x1="729.25" y1="502.00" x2="722.05" y2="502.00" stroke="#000" stroke-width="2.6" />
<line x1="71.10" y1="482.00" x2="78.30" y2="482.00" stroke="#000" stroke-width="2.6" />
<line x1="729.25" y1="482.00" x2="722.05" y2="482.00" stroke="#000" stroke-width="2.6" />
<line x1="71.10" y1="462.00" x2="78.30" y2="462.00" stroke="#000" stroke-width="2.6" />
<line x1="729.25" y1="462.00" x2="722.05" y2="462.00" stroke="#000" stroke-width="2.6" />
<line x1="71.10" y1="442.00" x2="84.30" y2="442.00" stroke="#000" stroke-width="2.8" />
<line x1="729.25" y1="442.00" x2="716.05" y2="442.00" stroke="#000" stroke-width="2.8" />
<line x1="71.10" y1="422.00" x2="78.30" y2="422.00" stroke="#000" stroke-width="2.6" />
<line x1="729.25" y1="422.00" x2="722.05" y2="422.00" stroke="#000" stroke-width="2.6" />
<line x1="71.10" y1="402.00" x2="78.30" y2="402.00" stroke="#000" stroke-width="2.6" />
<line x1="729.25" y1="402.00" x2="722.05" y2="402.00" stroke="#000" stroke-width="2.6" />
<line x1="71.10" y1="382.00" x2="78.30" y2="382.00" stroke="#000" stroke-width="2.6" />
<line x1="729.25" y1="382.00" x2="722.05" y2="382.00" stroke="#000" stroke-width="2.6" />
<line x1="71.10" y1="362.00" x2="84.30" y2="362.00" stroke="#000" stroke-width="2.8" />
<line x1="729.25" y1="362.00" x2="716.05" y2="362.00" stroke="#000" stroke-width="2.8" />
<line x1="71.10" y1="342.00" x2="78.30" y2="342.00" stroke="#000" stroke-width="2.6" />
<line x1="729.25" y1="342.00" x2="722.05" y2="342.00" stroke="#000" stroke-width="2.6" />
<line x1="71.10" y1="322.00" x2="78.30" y2="322.00" stroke="#000" stroke-width="2.6" />
<line x1="729.25" y1="322.00" x2="722.05" y2="322.00" stroke="#000" stroke-width="2.6" />
<rect x="561.5" y="9.35" width="160" height="47.45" rx="3" ry="3" fill="#fff" fill-opacity="0.8" stroke="#cccccc" stroke-opacity="0.85" stroke-width="1.3"/>
<line x1="565.95" y1="21.50" x2="598.40" y2="21.50" stroke="#ff0000" stroke-width="3.0" />
<line x1="565.95" y1="43.05" x2="598.40" y2="43.05" stroke="#008000" stroke-width="3.0" />
<rect x="561.5" y="329.35" width="160" height="47.45" rx="3" ry="3" fill="#fff" fill-opacity="0.8" stroke="#cccccc" stroke-opacity="0.85" stroke-width="1.3"/>
<line x1="565.95" y1="341.50" x2="598.40" y2="341.50" stroke="#ff0000" stroke-width="3.0" />
<line x1="565.95" y1="363.05" x2="598.40" y2="363.05" stroke="#008000" stroke-width="3.0" />
<rect x="71.1" y="2.05" width="658.15" height="640.25" fill="none" stroke="#000" stroke-width="2.9"/>
<line x1="71.10" y1="322.05" x2="729.25" y2="322.05" stroke="#000" stroke-width="2.9" />
<g style="filter:grayscale(1)"><text x="608.95" y="25.96" font-size="14.12" textLength="104.00" lengthAdjust="spacingAndGlyphs">TPA-FLU-PMI</text><text x="609.27" y="47.81" font-size="14.12" textLength="105.80" lengthAdjust="spacingAndGlyphs">DPA-FLU-PMI</text><text x="608.95" y="345.96" font-size="14.12" textLength="104.00" lengthAdjust="spacingAndGlyphs">TPA-FLU-PMI</text><text x="609.27" y="367.81" font-size="14.12" textLength="105.80" lengthAdjust="spacingAndGlyphs">DPA-FLU-PMI</text><text x="36.94" y="47.69" font-size="16.44" textLength="28.62" lengthAdjust="spacingAndGlyphs">0.0</text><text x="25.20" y="127.69" font-size="16.44" textLength="40.12" lengthAdjust="spacingAndGlyphs">−0.2</text><text x="24.57" y="207.69" font-size="16.44" textLength="40.12" lengthAdjust="spacingAndGlyphs">−0.4</text><text x="24.69" y="287.69" font-size="16.44" textLength="40.63" lengthAdjust="spacingAndGlyphs">−0.6</text><text x="36.94" y="607.69" font-size="16.44" textLength="28.62" lengthAdjust="spacingAndGlyphs">0.0</text><text x="37.59" y="527.69" font-size="16.44" textLength="27.79" lengthAdjust="spacingAndGlyphs">0.2</text><text x="36.96" y="447.69" font-size="16.44" textLength="27.81" lengthAdjust="spacingAndGlyphs">0.4</text><text x="37.07" y="367.69" font-size="16.44" textLength="28.32" lengthAdjust="spacingAndGlyphs">0.6</text><text x="90.17" y="659.63" font-size="16.51" textLength="11.21" lengthAdjust="spacingAndGlyphs">0</text><text x="201.45" y="659.63" font-size="16.51" textLength="32.85" lengthAdjust="spacingAndGlyphs">100</text><text x="323.23" y="659.63" font-size="16.51" textLength="32.90" lengthAdjust="spacingAndGlyphs">200</text><text x="445.25" y="659.61" font-size="16.48" textLength="32.79" lengthAdjust="spacingAndGlyphs">300</text><text x="566.86" y="659.63" font-size="16.51" textLength="32.96" lengthAdjust="spacingAndGlyphs">400</text><text x="688.91" y="659.63" font-size="16.51" textLength="32.75" lengthAdjust="spacingAndGlyphs">500</text><text x="357.99" y="682.00" font-size="17.8" textLength="84.57" lengthAdjust="spacingAndGlyphs">time [fs]</text><text x="0" y="0" font-size="17.5" textLength="141.64" lengthAdjust="spacingAndGlyphs" transform="translate(13.55,233.24) rotate(-90)">charge on PMI</text><text x="0" y="0" font-size="17.5" textLength="164.74" lengthAdjust="spacingAndGlyphs" transform="translate(27.05,564.34) rotate(-90)">charge on Donor</text><text x="96.67" y="41.53" font-size="27.21" textLength="14.77" lengthAdjust="spacingAndGlyphs" stroke="#000" stroke-width="0.6" stroke-linejoin="round">a</text><text x="116.83" y="39.85" font-size="23.59" textLength="7.22" lengthAdjust="spacingAndGlyphs" stroke="#000" stroke-width="1.3" stroke-linejoin="round">)</text><text x="96.58" y="361.54" font-size="26.39" textLength="17.63" lengthAdjust="spacingAndGlyphs" stroke="#000" stroke-width="0.6" stroke-linejoin="round">b</text><text x="117.84" y="360.01" font-size="23.81" textLength="7.16" lengthAdjust="spacingAndGlyphs" stroke="#000" stroke-width="1.3" stroke-linejoin="round">)</text></g></svg></body></html>
